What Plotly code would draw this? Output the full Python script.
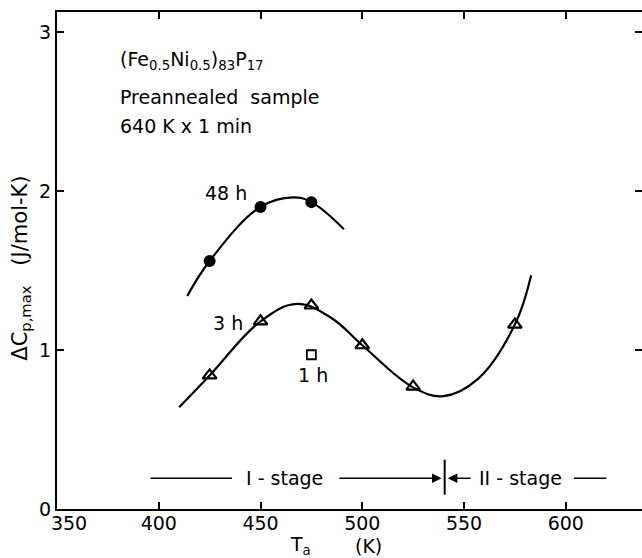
import plotly.graph_objects as go

# Measured peak heat-capacity change vs. annealing temperature
T_48h = [425, 450, 475]
cp_48h = [1.56, 1.90, 1.93]

T_3h = [425, 450, 475, 500, 525, 575]
cp_3h = [0.84, 1.18, 1.28, 1.03, 0.77, 1.16]

T_1h = [475]
cp_1h = [0.97]

# Hand-drawn guide curves through each series
guide48_T = [414, 425, 450, 466, 475, 491]
guide48_cp = [1.34, 1.56, 1.90, 1.96, 1.93, 1.76]

guide3_T = [410, 425, 450, 468, 485, 500, 525, 540, 557, 575, 583]
guide3_cp = [0.64, 0.84, 1.18, 1.29, 1.20, 1.03, 0.765, 0.71, 0.82, 1.16, 1.47]

# Stage boundary marker
stage_y = 0.193
stage_boundary_T = 540.5
stage_I_left = [396, 436]
stage_I_right = [488, 539]
stage_II_arrow = [554, 542]
stage_II_tail = [604, 620]
boundary_tick = [0.09, 0.31]

x_ticks = [350, 400, 450, 500, 550, 600]
x_ticktext = ["\u00a0\u00a0\u00a0\u00a0350", "400", "450", "500", "550", "600"]
y_ticks = [0, 1, 2, 3]

FONT = "DejaVu Sans"
BLACK = "black"
FS = 19

fig = go.Figure()

fig.add_trace(go.Scatter(x=guide48_T, y=guide48_cp, mode="lines",
                         line=dict(color=BLACK, width=2.2, shape="spline", smoothing=1.1),
                         hoverinfo="skip", showlegend=False))
fig.add_trace(go.Scatter(x=guide3_T, y=guide3_cp, mode="lines",
                         line=dict(color=BLACK, width=2.2, shape="spline", smoothing=1.1),
                         hoverinfo="skip", showlegend=False))

fig.add_trace(go.Scatter(x=T_48h, y=cp_48h, mode="markers",
                         marker=dict(symbol="circle", size=12, color=BLACK),
                         name="48 h", showlegend=False))
fig.add_trace(go.Scatter(x=T_3h, y=cp_3h, mode="markers",
                         marker=dict(symbol="triangle-up-open", size=12, color=BLACK,
                                     line=dict(width=2.2, color=BLACK)),
                         name="3 h", showlegend=False))
fig.add_trace(go.Scatter(x=T_1h, y=cp_1h, mode="markers",
                         marker=dict(symbol="square-open", size=9, color=BLACK,
                                     line=dict(width=1.8, color=BLACK)),
                         name="1 h", showlegend=False))

# Stage lines
for seg in (stage_I_left, stage_II_tail):
    fig.add_trace(go.Scatter(x=seg, y=[stage_y, stage_y], mode="lines",
                             line=dict(color=BLACK, width=1.6),
                             hoverinfo="skip", showlegend=False))
fig.add_trace(go.Scatter(x=[stage_boundary_T, stage_boundary_T], y=boundary_tick, mode="lines",
                         line=dict(color=BLACK, width=2),
                         hoverinfo="skip", showlegend=False))

annotations = []
for seg in (stage_I_right, stage_II_arrow):
    annotations.append(dict(x=seg[1], y=stage_y, ax=seg[0], ay=stage_y,
                            xref="x", yref="y", axref="x", ayref="y",
                            showarrow=True, arrowhead=2, arrowsize=1.2, arrowwidth=1.6,
                            arrowcolor=BLACK, text=""))

txt = dict(font=dict(family=FONT, size=FS, color=BLACK), showarrow=False)
annotations += [
    dict(x=462, y=stage_y, xref="x", yref="y", text="I - stage", **txt),
    dict(x=578, y=stage_y, xref="x", yref="y", text="II - stage", **txt),
    dict(x=433, y=1.99, xref="x", yref="y", text="48 h", **txt),
    dict(x=434, y=1.17, xref="x", yref="y", text="3 h", **txt),
    dict(x=476, y=0.84, xref="x", yref="y", text="1 h", **txt),
    dict(x=380, y=(509 - 60) / 159, xref="x", yref="y", xanchor="left",
         text="(Fe<sub>0.5</sub>Ni<sub>0.5</sub>)<sub>83</sub>P<sub>17</sub>", **txt),
    dict(x=380, y=(509 - 97) / 159, xref="x", yref="y", xanchor="left",
         text="Preannealed  sample", **txt),
    dict(x=380, y=(509 - 126) / 159, xref="x", yref="y", xanchor="left",
         text="640 K x 1 min", **txt),
    dict(x=-0.062, y=0.485, xref="paper", yref="paper", textangle=-90,
         yanchor="middle", xanchor="center",
         text="\u0394C<sub>p,max</sub>   (J/mol-K)",
         font=dict(family=FONT, size=21, color=BLACK), showarrow=False),
    dict(x=(300 - 57) / 585, y=-(545 - 509) / 497, xref="paper", yref="paper",
         yanchor="middle", text="T<sub>a</sub>", **txt),
    dict(x=(368 - 57) / 585, y=-(546 - 509) / 497, xref="paper", yref="paper",
         yanchor="middle", text="(K)", **txt),
]

axis_common = dict(showgrid=False, zeroline=False, showline=True, linecolor=BLACK,
                   linewidth=2, ticks="inside", ticklen=7, tickwidth=2, tickcolor=BLACK,
                   tickfont=dict(family=FONT, size=FS, color=BLACK))

fig.update_layout(
    width=642, height=558,
    margin=dict(l=57, r=0, t=12, b=49),
    paper_bgcolor="white", plot_bgcolor="white",
    xaxis=dict(range=[350, 350 + 585 / 2.035], tickvals=x_ticks,
               ticktext=x_ticktext, mirror="ticks",
               ticklabelstandoff=-4, **axis_common),
    yaxis=dict(range=[0, 497 / 159], tickvals=y_ticks,
               ticktext=[str(v) for v in y_ticks], **axis_common),
    yaxis2=dict(range=[0, 497 / 159], overlaying="y", side="right", anchor="x",
                showgrid=False, zeroline=False, showline=False, showticklabels=False,
                ticks="inside", ticklen=7, tickwidth=2, tickcolor=BLACK, tickvals=y_ticks),
    annotations=annotations,
    showlegend=False,
)
fig.add_trace(go.Scatter(x=[None], y=[None], yaxis="y2", showlegend=False, hoverinfo="skip"))

fig.write_html("out.html")
